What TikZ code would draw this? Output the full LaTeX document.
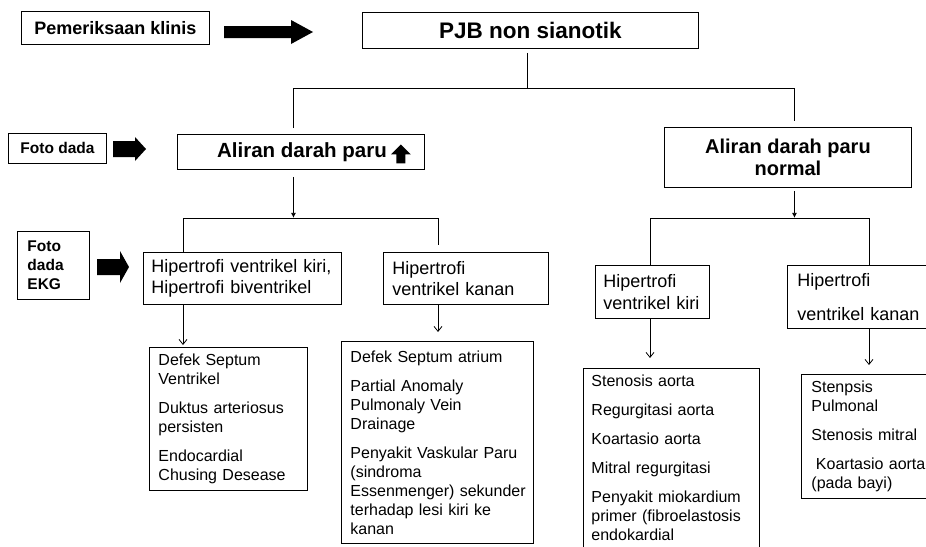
\documentclass[tikz,border=0pt]{standalone}
\usepackage{fontspec}
\setmainfont{Liberation Sans}
\usepackage{tikz}
\usetikzlibrary{positioning,calc,arrows.meta}

\tikzset{
  box/.style={draw, line width=0.9pt, rectangle, anchor=north west, inner ysep=0pt},
  hdbox/.style={box, align=center, inner xsep=0pt},
  itembox/.style={box, align=left, font=\fontsize{16}{19}\selectfont},
  hypbox/.style={box, align=left, font=\fontsize{18}{21.5}\selectfont},
  lnk/.style={line width=0.8pt},
  arrfill/.style={lnk, -{Latex[length=5pt,width=5pt]}},
  arropen/.style={lnk, -{Straight Barb[length=5pt,width=8pt]}},
}

\begin{document}
\begin{tikzpicture}[x=1pt, y=-1pt]
\useasboundingbox (0,0) rectangle (926,546);

\node[hdbox, minimum width=188pt, minimum height=33pt, font=\bfseries\fontsize{18}{21}\selectfont] (klinis) at (21,11) {Pemeriksaan klinis};
\node[hdbox, minimum width=336pt, minimum height=36pt, font=\bfseries\fontsize{22.5}{26}\selectfont] (pjb) at (362,12) {PJB non sianotik};
\node[hdbox, minimum width=98pt, minimum height=30pt, font=\bfseries\fontsize{15.5}{19}\selectfont] (fotoA) at (8,133) {Foto dada};
\node[hdbox, minimum width=247pt, minimum height=35pt, font=\bfseries\fontsize{20.5}{24}\selectfont] (aliranA) at (177,134) {\hspace{25pt}Aliran darah paru\hspace{23pt}};
\node[hdbox, minimum width=247pt, minimum height=60pt, font=\bfseries\fontsize{20}{22}\selectfont] (aliranB) at (664,127) {Aliran darah paru\\normal};
\node[box, align=left, text width=52pt, inner xsep=10pt, minimum height=68pt, font=\bfseries\fontsize{15.5}{19}\selectfont] (fotoB) at (17,231) {Foto\\dada\\EKG};

\node[hypbox, text width=182pt, inner xsep=8pt, minimum height=52pt] (hipKB) at (143,252) {Hipertrofi ventrikel kiri,\\Hipertrofi biventrikel};
\node[hypbox, text width=147pt, inner xsep=9pt, minimum height=52pt] (hipKn1) at (383,252) {Hipertrofi\\ventrikel kanan};
\node[hypbox, text width=98pt, inner xsep=8pt, minimum height=53pt] (hipKr) at (595,265) {Hipertrofi\\ventrikel kiri};
\node[hypbox, text width=133pt, inner xsep=10pt, minimum height=63pt] (hipKn2) at (787,265) {Hipertrofi\\[12.5pt]ventrikel kanan};

\node[itembox, text width=140pt, inner xsep=9pt, minimum height=143pt] (listA) at (149,347) {Defek Septum\\Ventrikel\\[10pt]Duktus arteriosus\\persisten\\[10pt]Endocardial\\Chusing Desease};
\node[itembox, text width=174pt, inner xsep=9pt, minimum height=202pt] (listB) at (341,341) {Defek Septum atrium\\[10pt]Partial Anomaly\\Pulmonaly Vein\\Drainage\\[10pt]Penyakit Vaskular Paru\\(sindroma\\\mbox{Essenmenger) sekunder}\\terhadap lesi kiri ke\\kanan};
\node[itembox, text width=160pt, inner xsep=8pt, minimum height=179.5pt] (listC) at (583,368) {Stenosis aorta\\[10pt]Regurgitasi aorta\\[10pt]Koartasio aorta\\[10pt]Mitral regurgitasi\\[10pt]Penyakit miokardium\\primer (fibroelastosis\\endokardial};
\node[itembox, text width=119pt, inner xsep=10pt, minimum height=124pt] (listD) at (801,374) {Stenpsis\\Pulmonal\\[10pt]Stenosis mitral\\[10pt]\hspace*{4.5pt}Koartasio aorta\\(pada bayi)};

\fill (224,26) -- (291,26) -- (291,20) -- (313,32) -- (291,44) -- (291,38) -- (224,38) -- cycle;
\fill (113,141) -- (135,141) -- (135,137) -- (146,149) -- (135,161) -- (135,157) -- (113,157) -- cycle;
\fill (97,259) -- (120,259) -- (120,251) -- (129,267) -- (120,283) -- (120,275) -- (97,275) -- cycle;
\fill ($(aliranA.east)+(-24,-7.5)$) -- ++(10,10) -- ++(-5.5,0) -- ++(0,9) -- ++(-9,0) -- ++(0,-9) -- ++(-5.5,0) -- cycle;

\draw[lnk] ([xshift=-3pt,yshift=-4pt]pjb.south) -- ++(0,35) coordinate (splitA);
\draw[lnk] ([xshift=-7.5pt,yshift=6pt]aliranA.north) |- (splitA) -| ([xshift=6.5pt,yshift=6pt]aliranB.north);

\draw[arrfill] ([xshift=-7.5pt,yshift=-7pt]aliranA.south) -- ++(0,41) coordinate (splitB);
\draw[lnk] ([xshift=40pt]hipKB.north west) |- (splitB) -| ([xshift=55pt,yshift=7pt]hipKn1.north west);
\draw[arrfill] ([xshift=6.5pt,yshift=-3pt]aliranB.south) -- ++(0,27) coordinate (splitC);
\draw[lnk] ([xshift=55pt]hipKr.north west) |- (splitC) -| ([xshift=82pt]hipKn2.north west);

\draw[arropen, shorten >=2pt] ([xshift=40pt]hipKB.south west) coordinate (tA) -- (tA |- listA.north);
\draw[arropen, shorten >=9pt] ([xshift=55pt]hipKn1.south west) coordinate (tB) -- (tB |- listB.north);
\draw[arropen, shorten >=10pt] ([xshift=55pt]hipKr.south west) coordinate (tC) -- (tC |- listC.north);
\draw[arropen, shorten >=9pt] ([xshift=82pt]hipKn2.south west) coordinate (tD) -- (tD |- listD.north);
\end{tikzpicture}
\end{document}
